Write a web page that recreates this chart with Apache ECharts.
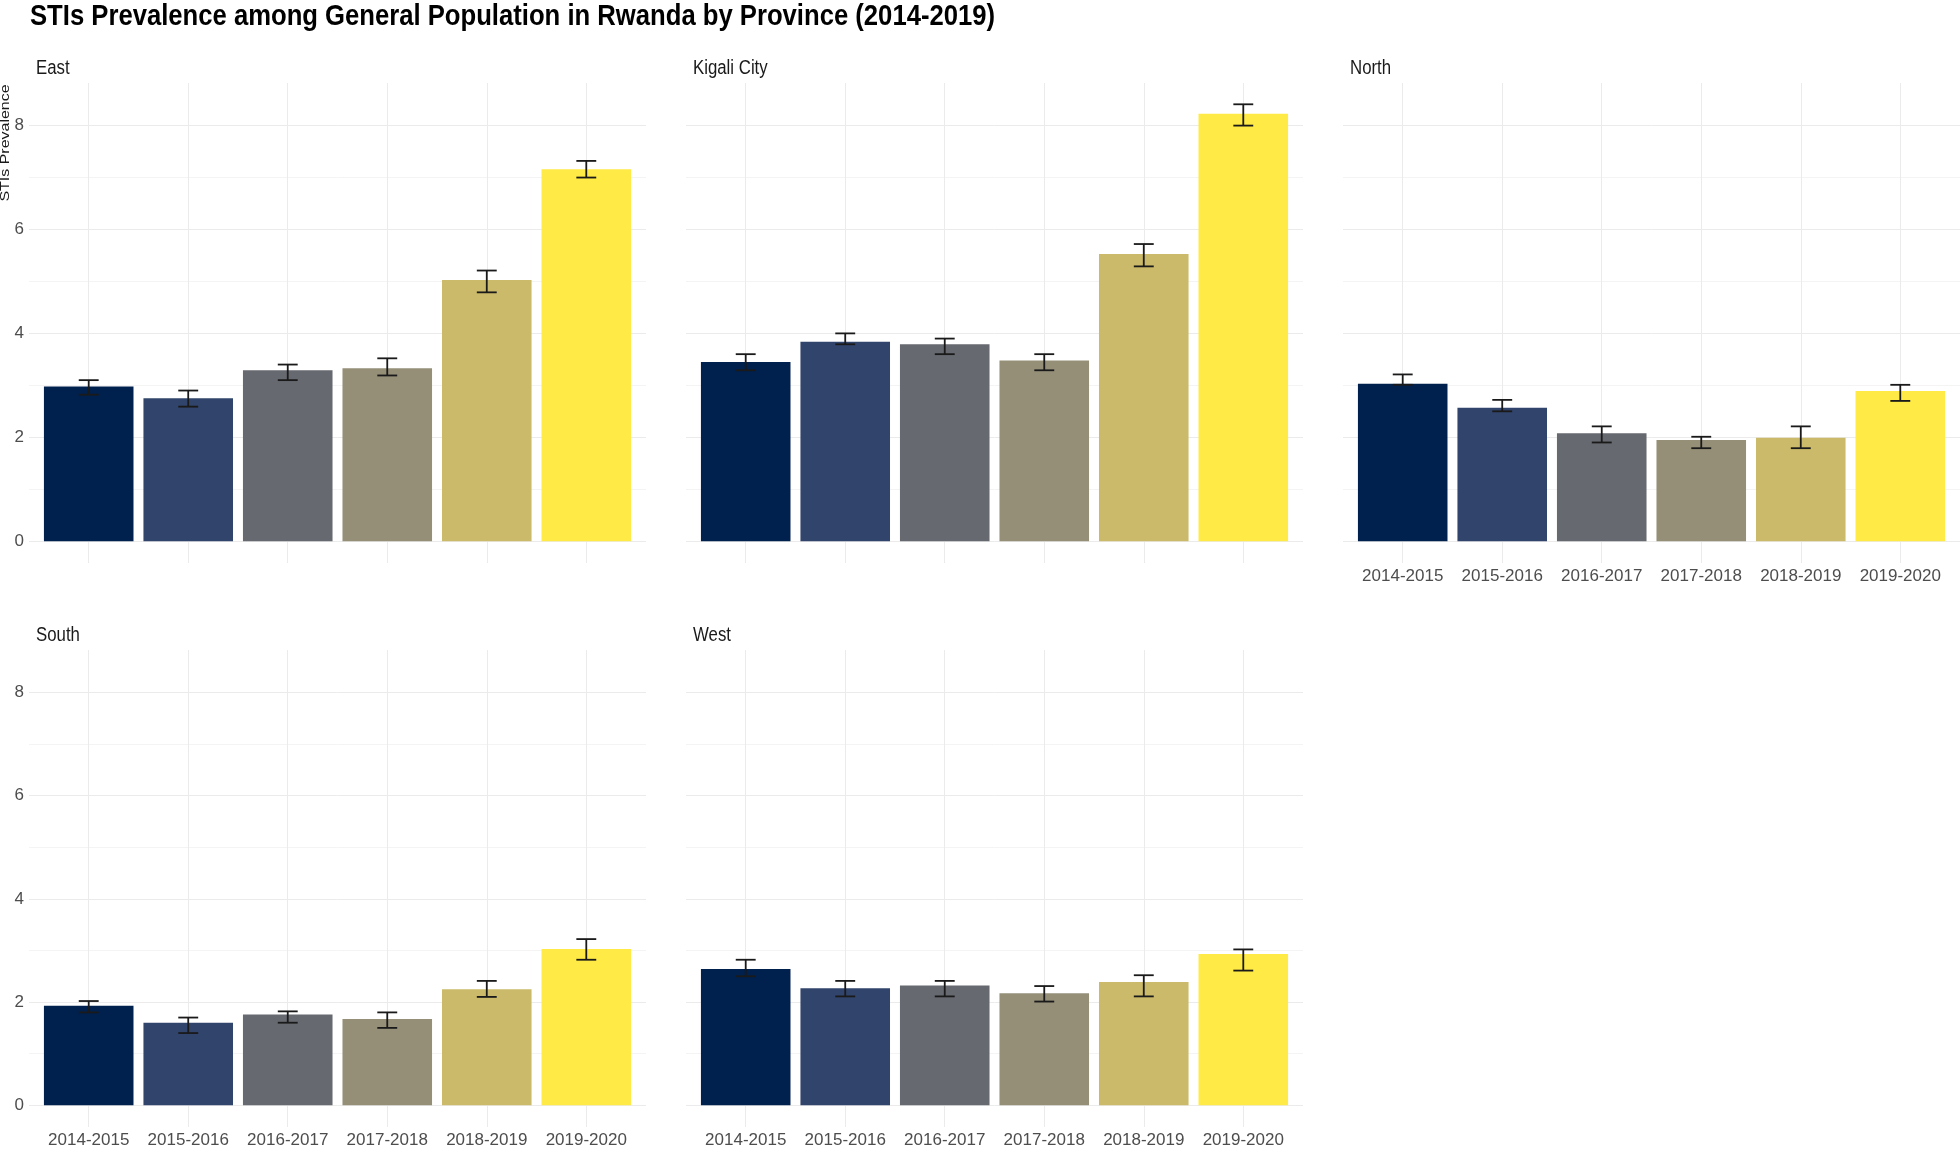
<!DOCTYPE html>
<html>
<head>
<meta charset="utf-8">
<script src="https://cdn.jsdelivr.net/npm/echarts@6/dist/echarts.min.js"></script>
<style>
  html, body { margin: 0; padding: 0; background: #fff; }
  #chart { width: 1960px; height: 1150px; }
</style>
</head>
<body>
<div id="chart"></div>
<script>
  // 数据
  const years = ['2014-2015', '2015-2016', '2016-2017', '2017-2018', '2018-2019', '2019-2020']
  const provinces = ['East', 'Kigali City', 'North', 'South', 'West']
  const yLabelTicks = [0, 2, 4, 6, 8]
  const yGridTicks = [0, 1, 2, 3, 4, 5, 6, 7, 8]

  const eastPrev = [2.98, 2.75, 3.29, 3.33, 5.03, 7.16]
  const eastLow = [2.82, 2.59, 3.10, 3.19, 4.79, 7.00]
  const eastHigh = [3.10, 2.90, 3.40, 3.52, 5.21, 7.32]

  const kigaliPrev = [3.45, 3.84, 3.79, 3.48, 5.53, 8.23]
  const kigaliLow = [3.29, 3.79, 3.60, 3.29, 5.29, 8.00]
  const kigaliHigh = [3.60, 4.00, 3.90, 3.60, 5.72, 8.41]

  const northPrev = [3.03, 2.57, 2.08, 1.95, 1.99, 2.89]
  const northLow = [3.01, 2.50, 1.90, 1.79, 1.79, 2.70]
  const northHigh = [3.21, 2.72, 2.21, 2.01, 2.21, 3.01]

  const southPrev = [1.93, 1.60, 1.76, 1.67, 2.25, 3.03]
  const southLow = [1.80, 1.40, 1.60, 1.50, 2.10, 2.82]
  const southHigh = [2.02, 1.70, 1.82, 1.80, 2.41, 3.22]

  const westPrev = [2.64, 2.27, 2.32, 2.17, 2.39, 2.93]
  const westLow = [2.50, 2.11, 2.11, 2.01, 2.11, 2.61]
  const westHigh = [2.82, 2.41, 2.41, 2.31, 2.52, 3.02]

  const prevs = [eastPrev, kigaliPrev, northPrev, southPrev, westPrev]
  const lows = [eastLow, kigaliLow, northLow, southLow, westLow]
  const highs = [eastHigh, kigaliHigh, northHigh, southHigh, westHigh]

  // 样式 / 布局
  const yearColors = ['#00204D', '#31446B', '#666970', '#958F78', '#CBBA69', '#FFEA46']
  const panelW = 617
  const panelLeft = [29, 686, 1343, 29, 686]
  const panelTop = [83, 83, 83, 650, 650]
  const panelH = [480, 480, 480, 477, 477]
  const stripY = [68, 68, 68, 635, 635]
  const showX = [false, false, true, true, true]
  const showY = [true, false, false, true, false]
  const sans = '"Liberation Sans", Arial, Helvetica, sans-serif'
  const squeeze = 0.84 // 原图文字横向被压窄

  let myChart = echarts.init(document.getElementById('chart'))

  let grids = []
  let xAxes = []
  let yAxes = []
  let series = []
  let graphics = []

  provinces.forEach((name, i) => {
    grids.push({ left: panelLeft[i], top: panelTop[i], width: panelW, height: panelH[i] })
    xAxes.push({
      type: 'value',
      gridIndex: i,
      min: -0.6,
      max: 5.6,
      axisLine: { show: false },
      axisTick: { show: false, customValues: [0, 1, 2, 3, 4, 5] },
      axisLabel: {
        show: showX[i],
        customValues: [0, 1, 2, 3, 4, 5],
        formatter: v => years[Math.round(v)],
        color: '#4D4D4D',
        fontFamily: sans,
        fontSize: 17,
        margin: 5
      },
      splitLine: { show: true, lineStyle: { color: '#EBEBEB', width: 1 } }
    })
    yAxes.push({
      type: 'value',
      gridIndex: i,
      min: -0.42,
      max: 8.82,
      axisLine: { show: false },
      axisTick: { show: false, customValues: yGridTicks },
      axisLabel: {
        show: showY[i],
        customValues: yLabelTicks,
        color: '#4D4D4D',
        fontFamily: sans,
        fontSize: 17,
        margin: 5
      },
      splitLine: { show: true, lineStyle: { color: ['#EBEBEB', '#F4F4F4'], width: 1 } }
    })
    series.push({
      name: name,
      type: 'bar',
      xAxisIndex: i,
      yAxisIndex: i,
      barWidth: 0.9 * panelW / 6.2,
      silent: true,
      data: prevs[i].map((v, k) => ({ value: [k, v], itemStyle: { color: yearColors[k] } }))
    })
    series.push({
      name: name + ' CI',
      type: 'custom',
      xAxisIndex: i,
      yAxisIndex: i,
      silent: true,
      z: 5,
      encode: { x: 0, y: [1, 2] },
      data: lows[i].map((lo, k) => [k, lo, highs[i][k]]),
      renderItem: (params, api) => {
        let x = api.value(0)
        let top = api.coord([x, api.value(2)])
        let bot = api.coord([x, api.value(1)])
        let half = api.size([0.1, 0])[0]
        let st = { stroke: '#1A1A1A', lineWidth: 1.8 }
        return {
          type: 'group',
          children: [
            { type: 'line', shape: { x1: top[0], y1: top[1], x2: bot[0], y2: bot[1] }, style: st },
            { type: 'line', shape: { x1: top[0] - half, y1: top[1], x2: top[0] + half, y2: top[1] }, style: st },
            { type: 'line', shape: { x1: bot[0] - half, y1: bot[1], x2: bot[0] + half, y2: bot[1] }, style: st }
          ]
        }
      }
    })
    // 分面标签
    graphics.push({
      type: 'text',
      x: panelLeft[i] + 7,
      y: stripY[i],
      scaleX: squeeze,
      style: { text: name, font: '20px ' + sans, fill: '#1A1A1A', align: 'left', verticalAlign: 'middle' }
    })
  })

  // 标题
  graphics.push({
    type: 'text',
    x: 30,
    y: 16.5,
    scaleX: 0.855,
    style: {
      text: 'STIs Prevalence among General Population in Rwanda by Province (2014-2019)',
      font: 'bold 30px ' + sans,
      fill: '#000000',
      align: 'left',
      verticalAlign: 'middle'
    }
  })

  // y 轴标题
  graphics.push({
    type: 'text',
    x: 6,
    y: 143,
    rotation: Math.PI / 2,
    scaleX: 1.33,
    style: {
      text: 'STIs Prevalence',
      font: '12px ' + sans,
      fill: '#1A1A1A',
      align: 'center',
      verticalAlign: 'middle'
    }
  })

  myChart.setOption({
    animation: false,
    backgroundColor: '#ffffff',
    grid: grids,
    xAxis: xAxes,
    yAxis: yAxes,
    graphic: graphics,
    series: series
  })
</script>
</body>
</html>
